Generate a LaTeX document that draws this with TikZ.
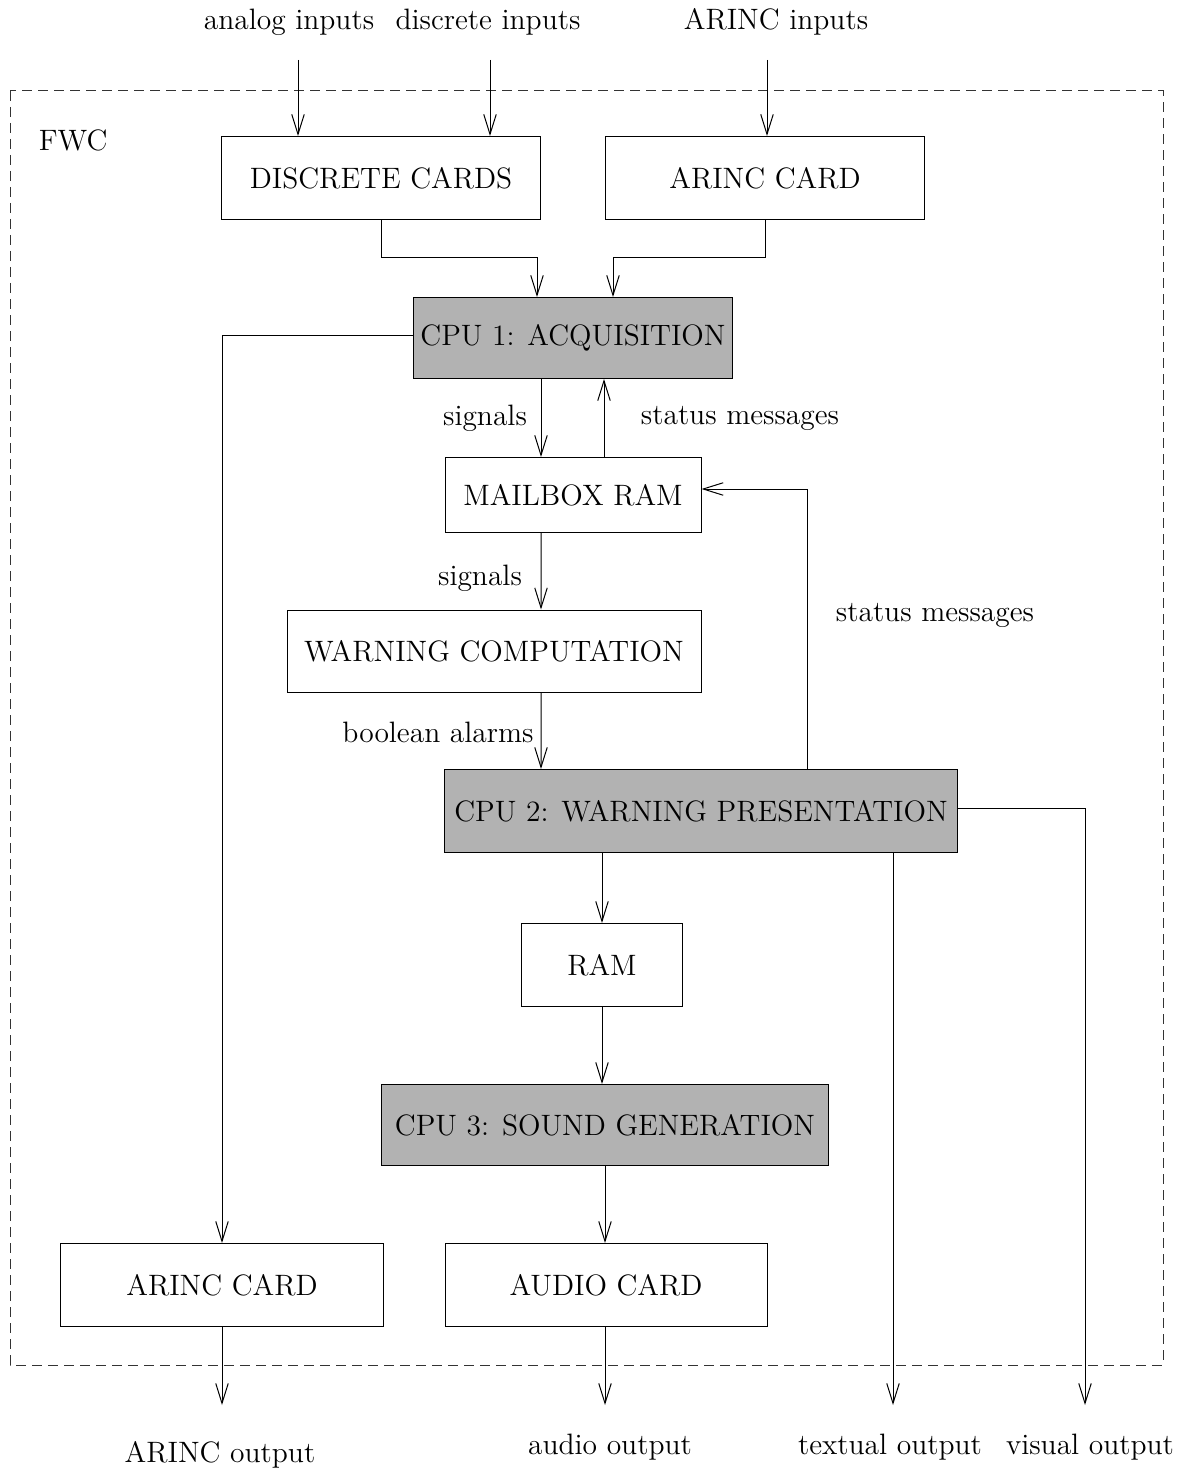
\documentclass[tikz,border=0pt]{standalone}
\usepackage{fontspec}
\usepackage{tikz}
\usetikzlibrary{arrows.meta,positioning}

\begin{document}
\begin{tikzpicture}[x=0.4pt, y=-0.4pt,
    font=\fontsize{11.8}{14}\selectfont,
    >={Straight Barb[length=8pt,width=5pt]},
    unitbox/.style={draw, line width=0.4pt, minimum width=127.6pt, minimum height=33.2pt, inner sep=0pt},
    cpubox/.style={unitbox, fill=black!30},
    flow/.style={->, line width=0.4pt}]
    \useasboundingbox (0,0) rectangle (1184,1471);

    % FWC frame
    \draw[dash pattern=on 4pt off 2.4pt, line width=0.4pt, black!80] (10,91) rectangle (1163,1365);
    \node[anchor=west] (fwc) at (30,140) {FWC};

    % Inputs
    \node (analogin) at (289,22) {analog inputs};
    \node (discretein) at (488,22) {discrete inputs};
    \node (arincinlbl) at (776,22) {ARINC inputs};
    \coordinate (ain) at (298,60);
    \coordinate (din) at (490,60);
    \coordinate (rin) at (767,60);

    % Cards
    \node[unitbox] (dcards) at (381,178) {DISCRETE CARDS};
    \node[unitbox] (arincin) at (765,178) {ARINC CARD};

    % CPU 1
    \node[cpubox, minimum height=32.4pt] (cpu1) at (573,338) {CPU 1: ACQUISITION};

    % Mailbox
    \node[unitbox, minimum width=102.4pt, minimum height=30pt] (mailbox) at (573,495) {MAILBOX RAM};

    % Warning computation
    \node[unitbox, minimum width=165.6pt, minimum height=32.8pt] (warncomp) at (494,651) {WARNING COMPUTATION};

    % CPU 2
    \node[cpubox, minimum width=205.2pt] (cpu2) at (701,811) {CPU 2: WARNING PRESENTATION};

    % RAM
    \node[unitbox, minimum width=64.4pt] (ram) at (602,965) {RAM};

    % CPU 3
    \node[cpubox, minimum width=178.8pt, minimum height=32.4pt] (cpu3) at (605,1125) {CPU 3: SOUND GENERATION};

    % Output cards
    \node[unitbox, minimum width=128.8pt] (audio) at (606,1285) {AUDIO CARD};
    \node[unitbox, minimum width=128.8pt] (arincout) at (222,1285) {ARINC CARD};

    % Outputs
    \coordinate (rout) at (222,1405);
    \coordinate (aout) at (605,1405);
    \coordinate (tout) at (893,1405);
    \coordinate (vout) at (1085,1405);
    \node (arincoutlbl) at (220,1455) {ARINC output};
    \node (audiolbl) at (610,1447) {audio output};
    \node (textlbl) at (890,1447) {textual output};
    \node (visuallbl) at (1090,1447) {visual output};

    % Flow labels
    \node (sig1) at (485,418) {signals};
    \node (stat1) at (740,418) {status messages};
    \node (sig2) at (480,578) {signals};
    \node (alarms) at (438,732) {boolean alarms};
    \node (stat2) at (935,615) {status messages};

    % Connectors
    \draw[flow] (ain) -- (ain |- dcards.north);
    \draw[flow] (din) -- (din |- dcards.north);
    \draw[flow] (rin) -- (rin |- arincin.north);
    \draw[flow] (dcards.south) -- ++(0,38) -| ([xshift=-14.4pt]cpu1.north);
    \draw[flow] (arincin.south) -- ++(0,38) -| ([xshift=16pt]cpu1.north);
    \draw[flow] ([yshift=0.8pt]cpu1.west) -| (arincout.north);
    \draw[flow] ([xshift=-12.8pt]cpu1.south) -- ([xshift=-12.8pt]mailbox.north);
    \draw[flow] ([xshift=12.4pt]mailbox.north) -- ([xshift=12.4pt]cpu1.south);
    \draw[flow] ([xshift=-12.8pt]mailbox.south) -- ([xshift=18.8pt]warncomp.north);
    \draw[flow] ([xshift=18.8pt]warncomp.south) -- ([xshift=-64pt]cpu2.north);
    \draw[flow] ([xshift=42.4pt]cpu2.north) |- ([yshift=2.4pt]mailbox.east);
    \draw[flow] ([yshift=1.2pt]cpu2.east) -| (vout);
    \draw[flow] (tout |- cpu2.south) -- (tout);
    \draw[flow] (ram.north |- cpu2.south) -- (ram.north);
    \draw[flow] (ram.south) -- (ram.south |- cpu3.north);
    \draw[flow] (aout |- cpu3.south) -- (aout |- audio.north);
    \draw[flow] (aout |- audio.south) -- (aout);
    \draw[flow] (arincout.south) -- (rout);
\end{tikzpicture}
\end{document}
